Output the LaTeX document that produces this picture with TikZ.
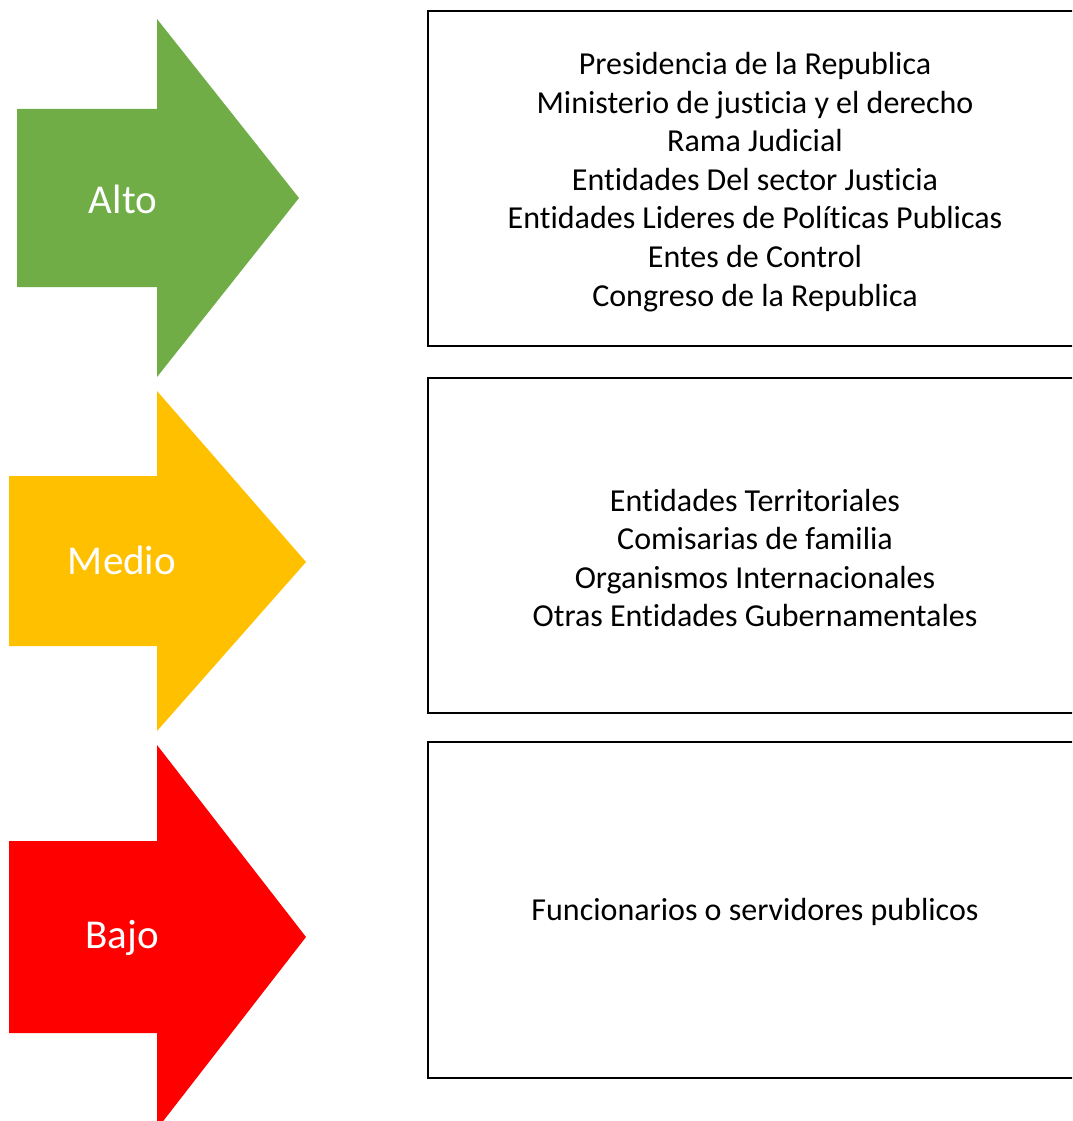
\documentclass[tikz,border=0pt]{standalone}
\usepackage{fontspec}
\setmainfont[Ligatures=NoCommon,RawFeature={-liga;-clig;-dlig}]{Carlito}
\definecolor{altoG}{RGB}{112,173,71}
\definecolor{medioY}{RGB}{255,192,0}
\definecolor{bajoR}{RGB}{255,0,0}
\begin{document}
\begin{tikzpicture}[x=1pt,y=-1pt,
  lbl/.style={text=white,font=\fontsize{41}{44}\selectfont,inner sep=0pt},
  boxtext/.style={align=center,font=\fontsize{32}{38.6}\selectfont,inner sep=0pt},
  frame/.style={draw=black,line width=2.6pt}]
\useasboundingbox (0,0) rectangle (1072,1121);
\clip (0,0) rectangle (1072,1121);
% arrows
\fill[altoG] (17,109) -- (157,109) -- (157,19) -- (299,198) -- (157,377) -- (157,287) -- (17,287) -- cycle;
\fill[medioY] (9,476) -- (157,476) -- (157,391) -- (306,562) -- (157,731) -- (157,646) -- (9,646) -- cycle;
\fill[bajoR] (9,841) -- (157,841) -- (157,745) -- (306,937) -- (157,1129) -- (157,1033) -- (9,1033) -- cycle;
\node[lbl] (alto) at (123,199) {Alto};
\node[lbl] (medio) at (122,560) {Medio};
\node[lbl] (bajo) at (122,938) {Bajo};
% boxes
\draw[frame] (428,11) rectangle (1095,346);
\draw[frame] (428,378) rectangle (1095,713);
\draw[frame] (428,742) rectangle (1095,1078);
\node[boxtext] (t1) at (755,182) {Presidencia de la Republica\\Ministerio de justicia y el derecho\\Rama Judicial\\Entidades Del sector Justicia\\Entidades Lideres de Políticas Publicas\\Entes de Control\\Congreso de la Republica};
\node[boxtext] (t2) at (755,558) {Entidades Territoriales\\Comisarias de familia\\Organismos Internacionales\\Otras Entidades Gubernamentales};
\node[boxtext] (t3) at (755,912) {Funcionarios o servidores publicos};
\end{tikzpicture}
\end{document}
